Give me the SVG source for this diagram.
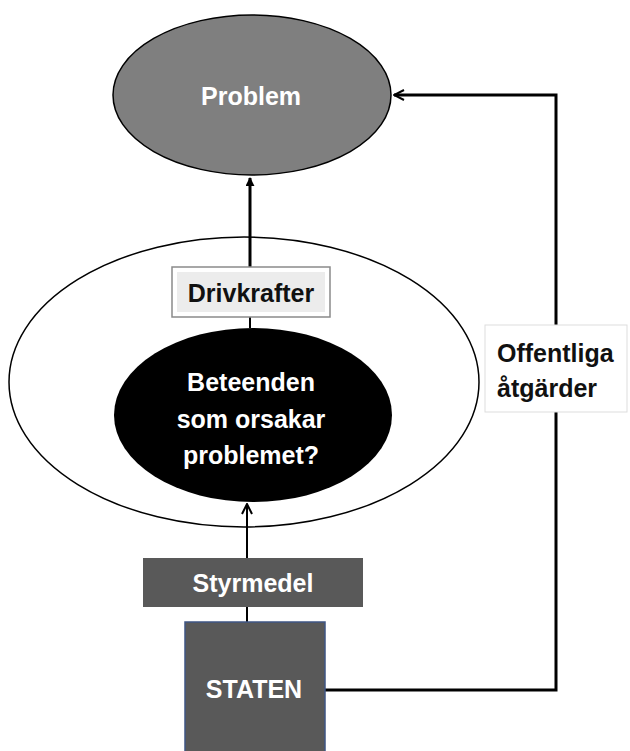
<svg xmlns="http://www.w3.org/2000/svg" width="630" height="751" viewBox="0 0 630 751">
<style>
.t{font-family:"Liberation Sans",Arial,sans-serif;font-weight:bold;font-size:25px;text-anchor:middle}
.s{text-anchor:start}
.w{fill:#ffffff}
.k{fill:#111111}
.c{fill:none;stroke:#000;stroke-width:3}
.c2{fill:none;stroke:#000;stroke-width:2}
</style>
<defs>
<marker id="open" viewBox="0 0 12 12" refX="11" refY="6" markerWidth="12" markerHeight="12" markerUnits="userSpaceOnUse" orient="auto">
<path d="M1,1 L11,6 L1,11" fill="none" stroke="#000" stroke-width="2"/>
</marker>
<marker id="solid" viewBox="0 0 10 10" refX="9" refY="5" markerWidth="9" markerHeight="9" markerUnits="userSpaceOnUse" orient="auto">
<path d="M0,0 L10,5 L0,10 z" fill="#000"/>
</marker>
</defs>
<rect width="630" height="751" fill="#fff"/>
<g id="outer">
<ellipse cx="244" cy="382" rx="235" ry="145" fill="#fff" stroke="#000" stroke-width="1.5"/>
</g>
<g id="problem">
<ellipse cx="252" cy="95" rx="139" ry="80" fill="#7f7f7f" stroke="#000" stroke-width="1.5"/>
<text class="t w" x="251" y="105">Problem</text>
</g>
<g id="beteenden">
<ellipse cx="253" cy="415" rx="139" ry="87" fill="#000"/>
<text class="t w" x="251" y="391">Beteenden</text>
<text class="t w" x="251" y="428">som orsakar</text>
<text class="t w" x="251" y="464">problemet?</text>
</g>
<g id="connectors">
<line class="c" x1="250" y1="267" x2="250" y2="178" marker-end="url(#solid)"/>
<line class="c2" x1="250" y1="317" x2="250" y2="328"/>
<line class="c2" x1="247" y1="558" x2="247" y2="504" marker-end="url(#open)"/>
<line class="c2" x1="247" y1="607" x2="247" y2="622"/>
<polyline class="c" points="325,690 556,690 556,95 394,95" marker-end="url(#open)"/>
</g>
<g id="drivkrafter">
<rect x="172" y="267" width="158" height="50" fill="#fff" stroke="#8a8a8a" stroke-width="1.5"/>
<rect x="177" y="272" width="148" height="40" fill="#ececec"/>
<text class="t k" x="251" y="302">Drivkrafter</text>
</g>
<g id="offentliga">
<rect x="485" y="325" width="142" height="87" fill="#fff" stroke="#dddddd" stroke-width="1"/>
<text class="t k s" x="497" y="362">Offentliga</text>
<text class="t k s" x="497" y="397">åtgärder</text>
</g>
<g id="styrmedel">
<rect x="143" y="558" width="220" height="49" fill="#595959"/>
<text class="t w" x="253" y="592">Styrmedel</text>
</g>
<g id="staten">
<rect x="185" y="622" width="140" height="135" fill="#595959" stroke="#3f5684" stroke-width="1.5"/>
<text class="t w" x="254" y="698">STATEN</text>
</g>
</svg>
